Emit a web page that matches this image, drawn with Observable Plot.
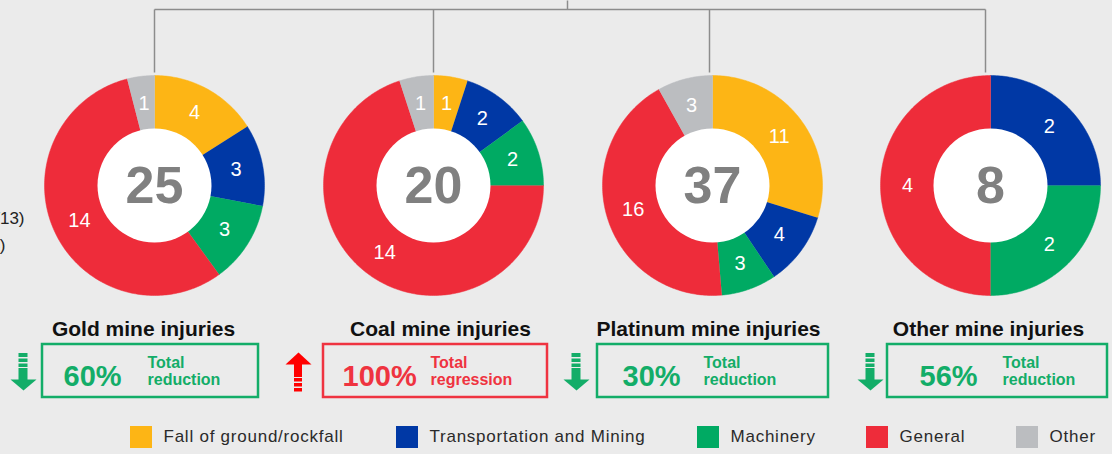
<!DOCTYPE html>
<html><head><meta charset="utf-8">
<script src="https://cdn.jsdelivr.net/npm/d3@7"></script>
<script src="https://cdn.jsdelivr.net/npm/@observablehq/plot@0.6"></script>
<style>
html,body{margin:0;padding:0;background:#ebebeb;}
#chart{width:1112px;height:454px;overflow:hidden;position:relative}
text[aria-label="legend-text"]{font-family:'Liberation Sans Narrow','Liberation Sans',Arial,sans-serif;}
</style></head><body><div id="chart"></div>
<script>
// ---- data ----
const categories = ["Fall of ground/rockfall","Transportation and Mining","Machinery","General","Other"];
const categoryColors = ["#FDB515","#0038A5","#00AA63","#EE2C3A","#BBBDC0"];
const mines = ["Gold","Coal","Platinum","Other"];
const mineTitles = ["Gold mine injuries","Coal mine injuries","Platinum mine injuries","Other mine injuries"];
const fallOfGround = [4,1,11,0];
const transportation = [3,2,4,2];
const machinery = [3,2,3,2];
const general = [14,14,16,4];
const otherCause = [1,1,3,0];
const totals = [25,20,37,8];
const changePct = ["60%","100%","30%","56%"];
const changeText = ["Total\nreduction","Total\nregression","Total\nreduction","Total\nreduction"];
const changeDir = ["down","up","down","down"];

// ---- layout ----
const W = 1112, H = 454;
const cx = [154, 433, 712, 990], cy = 185, R = 110, R0 = 57, RL = 83;
const lineX = [154, 433, 709, 985], busY = 9, topX = 567;
const titleX = [143, 440, 708, 988];
const boxX1 = [42, 323, 597, 887], boxX2 = [258, 547, 828, 1107];
const pctX = [63, 342, 622, 919], txtX = [147, 430, 703, 1002];
const arrowX = [23, 298, 576, 870];
const GREEN = "#13AD68", RED = "#EF3340", ARROW_RED = "#FF0000";

const series = [fallOfGround, transportation, machinery, general, otherCause];

// donut slice polygons
const polys = [], labels = [];
mines.forEach((m, i) => {
  const total = d3.sum(series, s => s[i]);
  let cum = 0;
  series.forEach((s, j) => {
    const v = s[i];
    if (v > 0) {
      const a0 = cum / total * 2 * Math.PI, a1 = (cum + v) / total * 2 * Math.PI;
      const n = Math.max(2, Math.ceil((a1 - a0) / (Math.PI / 180)));
      const id = m + "-" + j;
      for (let k = 0; k <= n; k++) {
        const a = a0 + (a1 - a0) * k / n;
        polys.push({id, cat: categories[j], x: cx[i] + R * Math.sin(a), y: cy - R * Math.cos(a)});
      }
      for (let k = n; k >= 0; k--) {
        const a = a0 + (a1 - a0) * k / n;
        polys.push({id, cat: categories[j], x: cx[i] + (R0 - 2) * Math.sin(a), y: cy - (R0 - 2) * Math.cos(a)});
      }
      const am = (a0 + a1) / 2;
      labels.push({x: cx[i] + RL * Math.sin(am), y: cy - RL * Math.cos(am), text: String(v)});
    }
    cum += v;
  });
});

const centers = mines.map((m, i) => ({x: cx[i], y: cy, text: String(totals[i])}));
const links = [{x1: lineX[0], y1: busY, x2: lineX[3], y2: busY}, {x1: topX, y1: 0, x2: topX, y2: busY}]
  .concat(lineX.map(x => ({x1: x, y1: busY, x2: x, y2: 72})));
const titles = mines.map((m, i) => ({x: titleX[i], y: 335, text: mineTitles[i]}));
const boxes = mines.map((m, i) => ({x1: boxX1[i], x2: boxX2[i], y1: 344, y2: 397, color: changeDir[i] === "up" ? RED : GREEN}));
const pcts = mines.map((m, i) => ({x: pctX[i], y: 385, text: changePct[i], color: changeDir[i] === "up" ? RED : GREEN}));
const txts = mines.map((m, i) => ({x: txtX[i], y: 384, text: changeText[i], color: changeDir[i] === "up" ? RED : GREEN}));

// arrows
const arrowRects = [], arrowHeads = [];
mines.forEach((m, i) => {
  const x = arrowX[i];
  if (changeDir[i] === "down") {
    const c = GREEN;
    [[353,357],[358.5,362],[363.5,367]].forEach(([a,b]) => arrowRects.push({x1: x-4.5, x2: x+4.5, y1: a, y2: b, c}));
    arrowRects.push({x1: x-4.5, x2: x+4.5, y1: 368, y2: 380, c});
    [[x-13,379],[x+13,379],[x,390]].forEach(([px,py]) => arrowHeads.push({id: m, x: px, y: py, c}));
  } else {
    const c = ARROW_RED;
    [[x,352],[x+13,364],[x-13,364]].forEach(([px,py]) => arrowHeads.push({id: m, x: px, y: py, c}));
    arrowRects.push({x1: x-4, x2: x+4, y1: 363.5, y2: 377, c});
    [[378,381.5],[383,386.5],[388,391.5]].forEach(([a,b]) => arrowRects.push({x1: x-4, x2: x+4, y1: a, y2: b, c}));
  }
});

// legend
const legendX = [130, 396, 697, 866, 1016];
const legend = categories.map((c, j) => ({cat: c, x1: legendX[j], x2: legendX[j] + 22, y1: 426, y2: 448, tx: legendX[j] + 33, ty: 436.5}));

// clipped side notes at left edge (cut off in the reference too)
const sideNotes = [{x: 24, y: 218, text: "(2012/13)"}, {x: 5, y: 245, text: "(2013/14)"}];

const FONT = "'Liberation Sans', Arial, Helvetica, sans-serif";

const plot = Plot.plot({
  width: W, height: H,
  margin: 0,
  x: {domain: [0, W], range: [0, W], axis: null},
  y: {domain: [0, H], range: [0, H], axis: null},
  color: {domain: categories, range: categoryColors},
  style: {background: "#ebebeb", fontFamily: FONT, overflow: "hidden"},
  marks: [
    Plot.link(links, {x1: "x1", y1: "y1", x2: "x2", y2: "y2", stroke: "#8c8c8c", strokeWidth: 1.5}),
    Plot.line(polys, {x: "x", y: "y", z: "id", fill: "cat", stroke: "cat", strokeWidth: 0.5, curve: "linear"}),
    Plot.dot(centers, {x: "x", y: "y", r: R0, fill: "white", stroke: null}),
    Plot.text(labels, {x: "x", y: "y", text: "text", fill: "white", fontSize: 20, lineAnchor: "middle"}),
    Plot.text(centers, {x: "x", y: "y", text: "text", fill: "#808080", fontSize: 52, fontWeight: "bold", lineAnchor: "middle", dy: 1}),
    Plot.text(titles, {x: "x", y: "y", text: "text", fill: "#111", fontSize: 21, fontWeight: "bold", lineAnchor: "bottom"}),
    Plot.rect(boxes.filter(d => d.color === GREEN), {x1: "x1", x2: "x2", y1: "y1", y2: "y2", fill: "none", stroke: GREEN, strokeWidth: 2.5}),
    Plot.rect(boxes.filter(d => d.color === RED), {x1: "x1", x2: "x2", y1: "y1", y2: "y2", fill: "none", stroke: RED, strokeWidth: 2.5}),
    Plot.text(pcts.filter(d => d.color === GREEN), {x: "x", y: "y", text: "text", fill: GREEN, fontSize: 29, fontWeight: "bold", textAnchor: "start", lineAnchor: "bottom"}),
    Plot.text(pcts.filter(d => d.color === RED), {x: "x", y: "y", text: "text", fill: RED, fontSize: 29, fontWeight: "bold", textAnchor: "start", lineAnchor: "bottom"}),
    Plot.text(txts.filter(d => d.color === GREEN), {x: "x", y: "y", text: "text", fill: GREEN, fontSize: 16, fontWeight: "bold", textAnchor: "start", lineAnchor: "bottom", lineHeight: 1.05}),
    Plot.text(txts.filter(d => d.color === RED), {x: "x", y: "y", text: "text", fill: RED, fontSize: 16, fontWeight: "bold", textAnchor: "start", lineAnchor: "bottom", lineHeight: 1.05}),
    Plot.rect(arrowRects.filter(d => d.c === GREEN), {x1: "x1", x2: "x2", y1: "y1", y2: "y2", fill: GREEN}),
    Plot.rect(arrowRects.filter(d => d.c === ARROW_RED), {x1: "x1", x2: "x2", y1: "y1", y2: "y2", fill: ARROW_RED}),
    Plot.line(arrowHeads.filter(d => d.c === GREEN), {x: "x", y: "y", z: "id", fill: GREEN, stroke: "none"}),
    Plot.line(arrowHeads.filter(d => d.c === ARROW_RED), {x: "x", y: "y", z: "id", fill: ARROW_RED, stroke: "none"}),
    Plot.rect(legend, {x1: "x1", x2: "x2", y1: "y1", y2: "y2", fill: "cat"}),
    Plot.text(legend, {x: "tx", y: "ty", text: "cat", fill: "#2a2a2a", fontSize: 17, textAnchor: "start", lineAnchor: "middle", ariaLabel: () => "legend-text"}),
    Plot.text(sideNotes, {x: "x", y: "y", text: "text", fill: "#222", fontSize: 17, textAnchor: "end", lineAnchor: "middle"})
  ]
});
document.getElementById("chart").appendChild(plot);
// spread legend letters to the reference's text width
const legendTexts = d3.select(plot).selectAll("text[aria-label='legend-text']");
const first = legendTexts.nodes()[0];
if (first) {
  const w = first.getComputedTextLength();
  const n = categories[0].length;
  const ls = Math.max(0, (180 - w) / n);
  legendTexts.style("letter-spacing", ls.toFixed(2) + "px");
}
</script>
</body></html>
